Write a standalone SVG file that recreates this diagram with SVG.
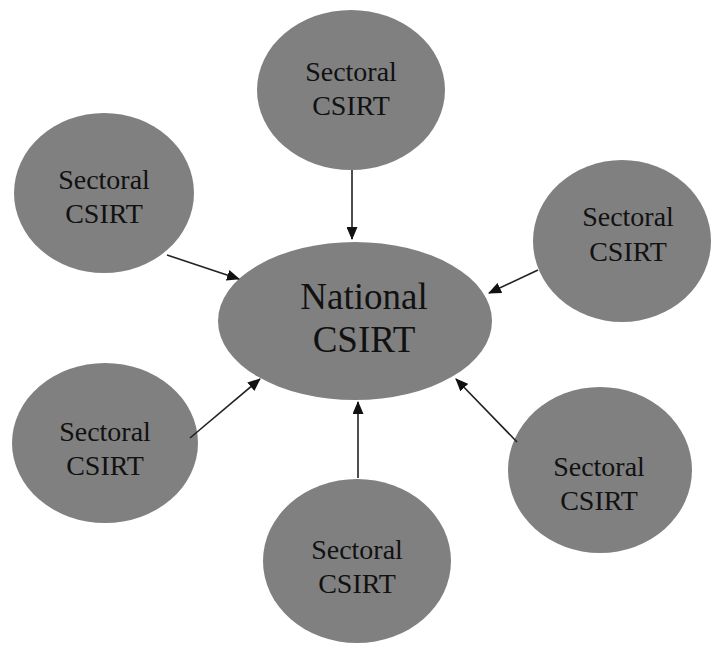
<svg xmlns="http://www.w3.org/2000/svg" width="712" height="648" viewBox="0 0 712 648">
<style>
.n{fill:#808080;stroke:none}
.t{font-family:"Liberation Serif","DejaVu Serif",serif;font-size:28px;fill:#111;text-anchor:middle}
.tc{font-size:37px}
.c line{stroke:#222;stroke-width:1.6;marker-end:url(#ah)}
</style>
<defs>
<marker id="ah" viewBox="0 0 13 11" refX="12" refY="5.5" markerWidth="13" markerHeight="11" orient="auto" markerUnits="userSpaceOnUse">
<path d="M0,0 L13,5.5 L0,11 z" fill="#111"/>
</marker>
</defs>
<rect width="712" height="648" fill="#fff"/>
<g id="national">
<ellipse class="n" cx="355" cy="321" rx="137" ry="79"/>
<text class="t tc" x="364" y="309">National</text>
<text class="t tc" x="364" y="352">CSIRT</text>
</g>
<g id="top">
<ellipse class="n" cx="351" cy="90" rx="94" ry="80"/>
<text class="t" x="351" y="81">Sectoral</text>
<text class="t" x="351" y="115">CSIRT</text>
</g>
<g id="top-left">
<ellipse class="n" cx="104" cy="193" rx="90" ry="80"/>
<text class="t" x="104" y="189">Sectoral</text>
<text class="t" x="104" y="223">CSIRT</text>
</g>
<g id="right">
<ellipse class="n" cx="622" cy="241" rx="89" ry="81"/>
<text class="t" x="628" y="226">Sectoral</text>
<text class="t" x="628" y="261">CSIRT</text>
</g>
<g id="bottom-left">
<ellipse class="n" cx="105" cy="443" rx="93" ry="80"/>
<text class="t" x="105" y="441">Sectoral</text>
<text class="t" x="105" y="475">CSIRT</text>
</g>
<g id="bottom">
<ellipse class="n" cx="357" cy="561" rx="94" ry="82"/>
<text class="t" x="357" y="559">Sectoral</text>
<text class="t" x="357" y="593">CSIRT</text>
</g>
<g id="bottom-right">
<ellipse class="n" cx="600" cy="470" rx="92" ry="83"/>
<text class="t" x="599" y="476">Sectoral</text>
<text class="t" x="599" y="510">CSIRT</text>
</g>
<g id="connectors" class="c">
<line x1="352" y1="170" x2="352" y2="239"/>
<line x1="167" y1="255" x2="239" y2="279"/>
<line x1="538" y1="270" x2="489" y2="293"/>
<line x1="190" y1="438" x2="260" y2="379"/>
<line x1="358" y1="478" x2="358" y2="402"/>
<line x1="517" y1="442" x2="456" y2="379"/>
</g>
</svg>
